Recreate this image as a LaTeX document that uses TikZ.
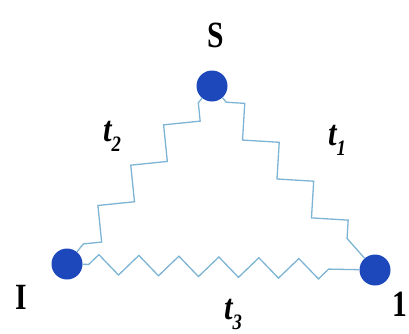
\documentclass[tikz,border=0pt]{standalone}
\usepackage{fontspec}
\setmainfont{Liberation Serif}
\usetikzlibrary{decorations.pathmorphing}
\definecolor{dotblue}{RGB}{28,72,188}
\definecolor{springblue}{RGB}{125,180,212}
\tikzset{
  site/.style={circle, fill=dotblue, minimum size=31pt, inner sep=0pt},
  spring/.style={springblue, line width=1.3pt, decorate,
    decoration={zigzag, amplitude=13pt, segment length=52pt,
      pre length=6pt, post length=6pt}},
  sitelabel/.style={font=\fontsize{37}{37}\selectfont\bfseries, inner sep=0pt, xscale=0.8},
  hoplabel/.style={font=\fontsize{36}{36}\selectfont\bfseries\itshape, inner sep=0pt, xscale=0.85}
}
\newcommand{\hop}[1]{t\raisebox{-10pt}{\fontsize{22}{22}\selectfont #1}}

\begin{document}
\begin{tikzpicture}[x=1pt, y=-1pt]
  \useasboundingbox (0,0) rectangle (409,333);
  % sites
  \node[site] (s) at (212,86) {};
  \node[site] (i) at (67,264) {};
  \node[site] (o) at (375,270) {};
  \node[sitelabel] (slab) at (216,35) {S};
  \node[sitelabel] (ilab) at (21,297) {I};
  \node[sitelabel] (olab) at (400,304) {1};
  % hoppings
  \draw[spring] (s) -- (i);
  \draw[spring] (s) -- (o);
  \draw[spring, decoration={amplitude=10pt, segment length=40pt, post length=14pt}] (i) -- (o);
  \node[hoplabel] (t2) at (112,136) {\hop{2}};
  \node[hoplabel] (t1) at (337,140) {\hop{1}};
  \node[hoplabel] (t3) at (233,314) {\hop{3}};
\end{tikzpicture}
\end{document}
